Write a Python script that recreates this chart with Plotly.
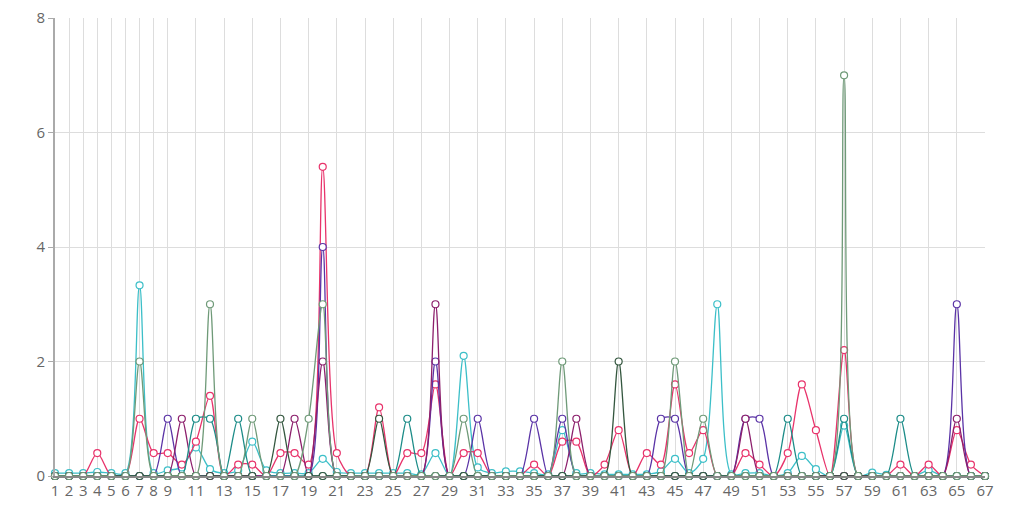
import plotly.graph_objects as go

# categories 1..67
days = list(range(1, 68))
tick_labels = [1, 2, 3, 4, 5, 6, 7, 8, 9] + list(range(11, 68, 2))
y_ticks = [0, 2, 4, 6, 8]


def series(points, base=0.0):
    # points: {category: value}, everything else takes the base value
    return [points.get(d, base) for d in days]


cyan_vals = series({
    1: 0.05, 2: 0.05, 3: 0.05, 4: 0.07, 5: 0.05, 6: 0.05, 7: 3.33, 8: 0.05,
    9: 0.1, 10: 0.15, 11: 0.5, 12: 0.12, 13: 0.05, 14: 0.1, 15: 0.6, 16: 0.1,
    17: 0.05, 18: 0.05, 19: 0.05, 20: 0.3, 21: 0.07, 22: 0.05, 23: 0.05,
    24: 0.05, 25: 0.05, 26: 0.05, 27: 0.03, 28: 0.4, 29: 0.0, 30: 2.1,
    31: 0.15, 32: 0.05, 33: 0.08, 34: 0.08, 35: 0.05, 36: 0.03, 37: 0.8,
    38: 0.05, 39: 0.05, 40: 0.03, 41: 0.03, 42: 0.03, 43: 0.03, 44: 0.08,
    45: 0.3, 46: 0.05, 47: 0.3, 48: 3.0, 49: 0.03, 50: 0.05, 51: 0.05,
    53: 0.05, 54: 0.35, 55: 0.12, 57: 0.88, 59: 0.06, 60: 0.02, 63: 0.1,
})
crimson_vals = series({
    4: 0.4, 7: 1.0, 8: 0.4, 9: 0.4, 10: 0.2, 11: 0.6, 12: 1.4, 14: 0.2,
    15: 0.2, 17: 0.4, 18: 0.4, 19: 0.2, 20: 5.4, 21: 0.4, 24: 1.2, 26: 0.4,
    27: 0.4, 28: 1.6, 30: 0.4, 31: 0.4, 35: 0.2, 37: 0.6, 38: 0.6, 40: 0.2,
    41: 0.8, 43: 0.4, 44: 0.2, 45: 1.6, 46: 0.4, 47: 0.8, 50: 0.4, 51: 0.2,
    53: 0.4, 54: 1.6, 55: 0.8, 57: 2.2, 61: 0.2, 63: 0.2, 65: 0.8, 66: 0.2,
})
purple_vals = series({
    9: 1, 20: 4, 28: 2, 31: 1, 35: 1, 37: 1, 44: 1, 45: 1, 50: 1, 51: 1, 65: 3,
})
plum_vals = series({
    10: 1, 18: 1, 20: 2, 28: 3, 38: 1, 50: 1, 65: 1,
})
teal_vals = series({
    11: 1, 12: 1, 14: 1, 26: 1, 53: 1, 57: 1, 61: 1,
})
darkgreen_vals = series({
    17: 1, 24: 1, 41: 2,
})
sage_vals = series({
    7: 2, 12: 3, 15: 1, 19: 1, 20: 3, 30: 1, 37: 2, 45: 2, 47: 1, 57: 7,
})

traces = [
    ("cyan", cyan_vals, "#3cbfc8"),
    ("crimson", crimson_vals, "#e8336b"),
    ("purple", purple_vals, "#5a33a6"),
    ("plum", plum_vals, "#8c1f6c"),
    ("teal", teal_vals, "#1c8c88"),
    ("darkgreen", darkgreen_vals, "#34573f"),
    ("sage", sage_vals, "#6f9a78"),
]

fig = go.Figure()
for name, vals, color in traces:
    fig.add_trace(go.Scatter(
        x=days,
        y=vals,
        name=name,
        mode="lines+markers",
        line=dict(color=color, width=1.3, shape="spline", smoothing=0.8),
        marker=dict(symbol="circle", size=7, color="white",
                    line=dict(color=color, width=1.2)),
        cliponaxis=False,
    ))

# the page body has an 8px margin, so the figure is a bit smaller than the window
fig.update_layout(
    width=1028,
    height=508,
    showlegend=False,
    plot_bgcolor="white",
    paper_bgcolor="white",
    margin=dict(l=47, r=51, t=10, b=40, autoexpand=False),
    font=dict(family="Open Sans", size=15, color="#666666"),
    xaxis=dict(
        range=[1, 67],
        tickmode="array",
        tickvals=tick_labels,
        ticktext=[str(t) for t in tick_labels],
        automargin=False,
        showgrid=True,
        gridcolor="#dddddd",
        gridwidth=1,
        showline=True,
        linecolor="#888888",
        linewidth=2,
        zeroline=False,
        ticks="",
        tickangle=0,
    ),
    yaxis=dict(
        range=[0, 8.0005],
        tickmode="array",
        tickvals=y_ticks,
        ticktext=[str(t) for t in y_ticks],
        ticklabeloverflow="allow",
        automargin=False,
        showgrid=True,
        gridcolor="#dddddd",
        gridwidth=1,
        showline=True,
        linecolor="#aaaaaa",
        linewidth=2,
        zeroline=False,
        ticks="outside",
        ticklen=5,
        tickcolor="#aaaaaa",
    ),
)

fig.write_html("out.html")
